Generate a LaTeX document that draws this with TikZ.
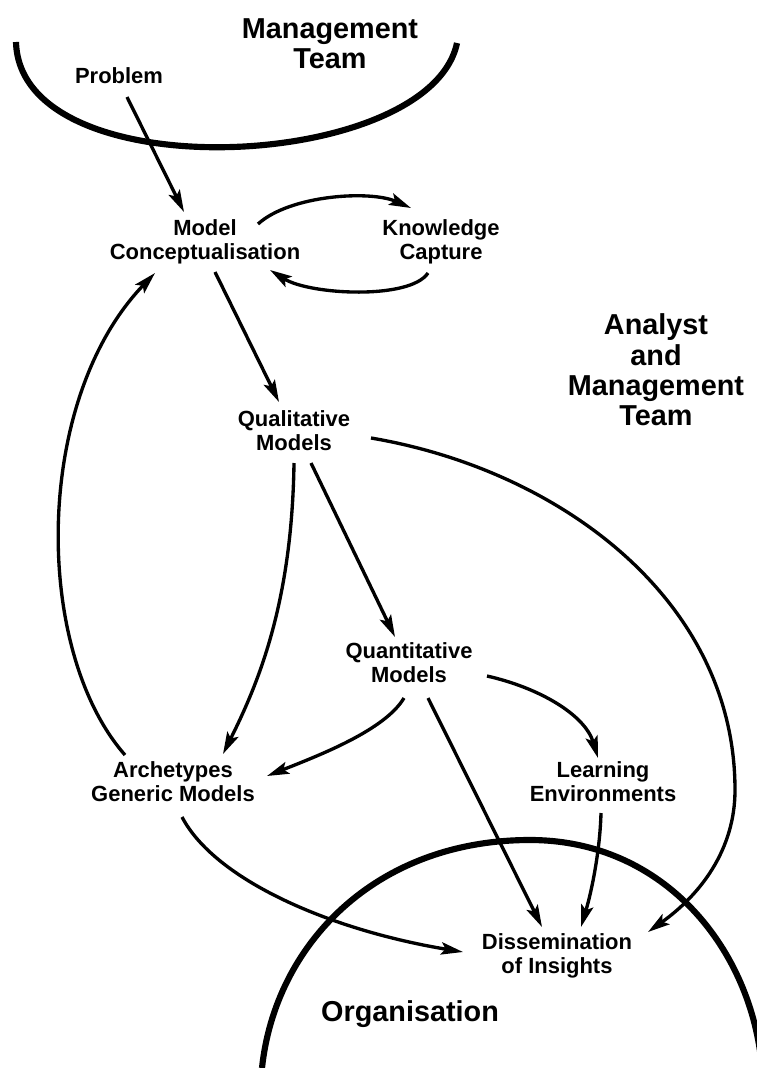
\documentclass[tikz,border=0pt]{standalone}
\usepackage{fontspec}
\setmainfont{Liberation Sans}
\usepackage{tikz}
\usetikzlibrary{arrows.meta,positioning,calc}

\begin{document}
\begin{tikzpicture}[
  x=0.02cm, y=-0.02cm,
  lbl/.style={align=center, font=\fontsize{12.5}{13.6}\selectfont\bfseries, inner sep=1pt},
  big/.style={align=center, font=\fontsize{16.4}{17.3}\selectfont\bfseries, inner sep=1pt},
  arrow/.style={-{Stealth[length=12.5pt, width=7pt, inset=2.5pt]}, line width=1.9pt},
  boundary/.style={line width=3.5pt}
]
  \useasboundingbox (0,0) rectangle (757,1068);
  \clip (0,0) rectangle (757,1068);

  % Groups
  \node[big] (mgmt) at (330, 44) {Management\\Team};
  \node[big] (analyst) at (656, 370) {Analyst\\and\\Management\\Team};
  \node[big] (org) at (410, 1014) {Organisation};

  % Boundaries
  \draw[boundary] (16,42) .. controls (20,192) and (430,172) .. (457,43);
  \draw[boundary] (262,1068) .. controls (275,945) and (375,840) .. (530,840)
    .. controls (665,840) and (752,950) .. (762,1068);

  % Stages
  \node[lbl] (prob) at (119, 76) {Problem};
  \node[lbl] (mc) at (205, 242) {Model\\Conceptualisation};
  \node[lbl] (kc) at (441, 242) {Knowledge\\Capture};
  \node[lbl] (qual) at (294, 431) {Qualitative\\Models};
  \node[lbl] (quant) at (409, 663) {Quantitative\\Models};
  \node[lbl] (arch) at (173, 782) {Archetypes\\Generic Models};
  \node[lbl] (learn) at (603, 782) {Learning\\Environments};
  \node[lbl] (dis) at (557, 956) {Dissemination\\of Insights};

  % Arrows
  \draw[arrow] ([shift={(8,21)}]prob.center) -- ([shift={(-21,-30)}]mc.center);
  \draw[arrow] ([shift={(53,-18)}]mc.center) .. controls +(32,-29) and +(-41,-18) .. ([shift={(-30,-34)}]kc.center);
  \draw[arrow] ([shift={(-13,31)}]kc.center) .. controls +(-18,27) and +(40,25) .. ([shift={(65,28)}]mc.center);
  \draw[arrow] ([shift={(10,30)}]mc.center) -- ([shift={(-15,-29)}]qual.center);
  \draw[arrow] ([shift={(-48,-27)}]arch.center) .. controls +(-92,-105) and +(-122,127) .. ([shift={(-50,31)}]mc.center);
  \draw[arrow] ([shift={(0,32)}]qual.center) .. controls +(-2,137) and +(37,-74) .. ([shift={(50,-28)}]arch.center);
  \draw[arrow] ([shift={(17,32)}]qual.center) -- ([shift={(-14,-26)}]quant.center);
  \draw[arrow] ([shift={(77,7)}]qual.center) .. controls +(189,32) and (735,600) .. (735,790)
    .. controls (735,850) and +(52,-37) .. ([shift={(91,-24)}]dis.center);
  \draw[arrow] ([shift={(-5,35)}]quant.center) .. controls +(-19,32) and +(53,-21) .. ([shift={(94,-6)}]arch.center);
  \draw[arrow] ([shift={(19,35)}]quant.center) -- ([shift={(-15,-29)}]dis.center);
  \draw[arrow] ([shift={(78,13)}]quant.center) .. controls +(53,12) and +(-13,-43) .. ([shift={(-5,-24)}]learn.center);
  \draw[arrow] ([shift={(-2,31)}]learn.center) .. controls +(-1,37) and +(11,-37) .. ([shift={(24,-29)}]dis.center);
  \draw[arrow] ([shift={(9,35)}]arch.center) .. controls +(33,63) and +(-133,-22) .. ([shift={(-94,-4)}]dis.center);
\end{tikzpicture}
\end{document}
